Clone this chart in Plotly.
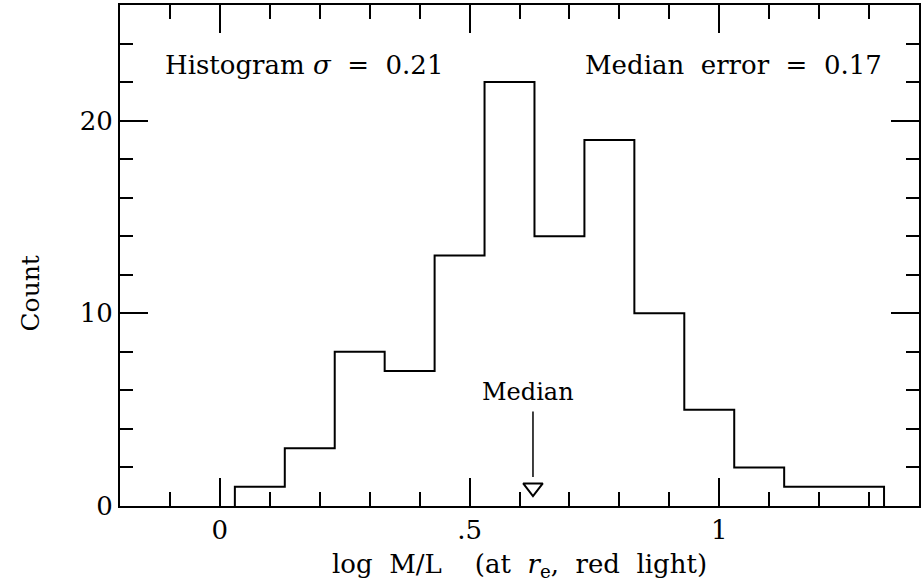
import plotly.graph_objects as go

# Data
bin_edges = [0.03, 0.13, 0.23, 0.33, 0.43, 0.53, 0.63, 0.73, 0.83, 0.93, 1.03, 1.13, 1.23, 1.33]
counts = [1, 3, 8, 7, 13, 22, 14, 19, 10, 5, 2, 1, 1]
median_value = 0.627
x_tickvals = [0, 0.5, 1]
x_ticktext = ["0", ".5", "1"]
y_tickvals = [0, 10, 20]
y_ticktext = ["0", "10", "20"]

FONT = "DejaVu Serif"
SP = "&nbsp;"

xs = [bin_edges[0]] + bin_edges
ys = [0] + counts + [0]

fig = go.Figure()
fig.add_trace(go.Scatter(x=xs, y=ys, mode="lines", line=dict(shape="hv", color="black", width=2),
                         hoverinfo="skip", showlegend=False))
# median arrow shaft
fig.add_trace(go.Scatter(x=[median_value, median_value], y=[4.9, 1.5], mode="lines",
                         line=dict(color="black", width=1.5), showlegend=False, hoverinfo="skip"))
# median arrow head (open triangle)
fig.add_trace(go.Scatter(x=[median_value], y=[0.95], mode="markers",
                         marker=dict(symbol="triangle-down-open", size=17, color="black",
                                     line=dict(width=2, color="black")),
                         showlegend=False, hoverinfo="skip"))

fig.update_layout(
    width=922, height=581,
    margin=dict(l=120, r=1, t=5, b=75),
    paper_bgcolor="white", plot_bgcolor="white",
    font=dict(family=FONT, size=26, color="black"),
    showlegend=False,
)
fig.update_xaxes(range=[-0.2, 1.4], showgrid=False, zeroline=False,
                 showline=True, linecolor="black", linewidth=2, mirror="allticks",
                 ticks="inside", ticklen=28, tickwidth=2, tickcolor="black",
                 tickvals=x_tickvals, ticktext=x_ticktext,
                 minor=dict(dtick=0.1, tick0=0, ticks="inside", ticklen=14, tickwidth=2, tickcolor="black"),
                 tickfont=dict(family=FONT, size=26))
fig.update_yaxes(range=[0, 26], showgrid=False, zeroline=False,
                 showline=True, linecolor="black", linewidth=2, mirror="allticks",
                 ticks="inside", ticklen=28, tickwidth=2, tickcolor="black",
                 tickvals=y_tickvals, ticktext=y_ticktext,
                 minor=dict(dtick=2, tick0=0, ticks="inside", ticklen=13, tickwidth=2, tickcolor="black"),
                 tickfont=dict(family=FONT, size=26))

fig.add_annotation(x=-0.114, y=22.9, xref="x", yref="y",
                   text=f"Histogram{SP}<i>σ</i>{SP}{SP}={SP}{SP}0.21",
                   showarrow=False, xanchor="left", yanchor="middle", font=dict(size=26))
fig.add_annotation(x=1.33, y=22.9, xref="x", yref="y",
                   text=f"Median{SP}{SP}error{SP}{SP}={SP}{SP}0.17",
                   showarrow=False, xanchor="right", yanchor="middle", font=dict(size=26))
fig.add_annotation(x=median_value - 0.01, y=5.9, xref="x", yref="y", text="Median",
                   showarrow=False, xanchor="center", yanchor="middle", font=dict(size=24))
fig.add_annotation(x=0.6, y=-0.118, xref="x", yref="paper",
                   text=f"log{SP}{SP}M/L{SP}{SP}{SP}{SP}(at{SP}{SP}<i>r</i><sub>e</sub>,{SP}{SP}red{SP}{SP}light)",
                   showarrow=False, xanchor="center", yanchor="middle", font=dict(size=26))
fig.add_annotation(x=-0.112, y=11.0, xref="paper", yref="y", text="Count", textangle=-90,
                   showarrow=False, xanchor="center", yanchor="middle", font=dict(size=25))

fig.write_html("out.html")
